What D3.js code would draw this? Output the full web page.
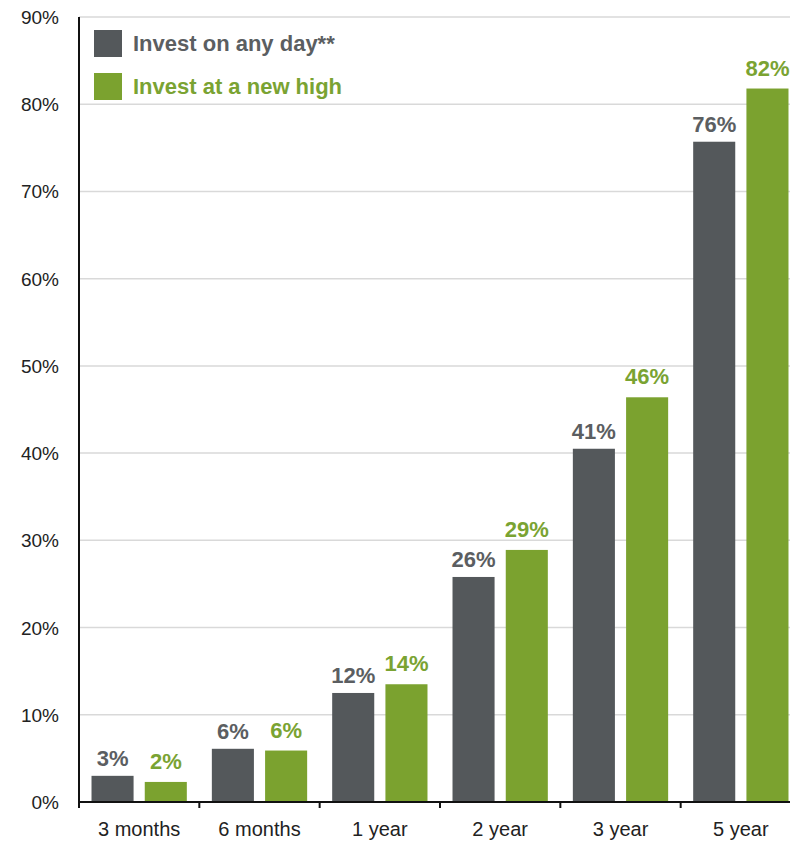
<!DOCTYPE html>
<html>
<head>
<meta charset="utf-8">
<script src="https://cdn.jsdelivr.net/npm/d3@7"></script>
<style>
  body { margin: 0; background: #fff; }
  svg { display: block; font-family: "Liberation Sans", Arial, sans-serif; }
</style>
</head>
<body>
<div id="chart"></div>
<script>
const periods = ["3 months", "6 months", "1 year", "2 year", "3 year", "5 year"];
const anyDay = [3.0, 6.1, 12.5, 25.8, 40.5, 75.7];
const newHigh = [2.3, 5.9, 13.5, 28.9, 46.4, 81.8];
const anyDayLabels = ["3%", "6%", "12%", "26%", "41%", "76%"];
const newHighLabels = ["2%", "6%", "14%", "29%", "46%", "82%"];
const yTicks = [0, 10, 20, 30, 40, 50, 60, 70, 80, 90];
const seriesNames = ["Invest on any day**", "Invest at a new high"];

const width = 790, height = 841;
const margin = { top: 17, right: -11, bottom: 39, left: 79 };

const barColor = ["#54585b", "#7ba22f"];
const textColor = ["#5b5e61", "#7aa332"];
const labelGap = [10, 13];

const svg = d3.select("#chart").append("svg")
    .attr("width", width)
    .attr("height", height);

const x = d3.scaleBand()
    .domain(periods)
    .range([margin.left, width - margin.right])
    .paddingInner(0)
    .paddingOuter(0);

const x1 = d3.scaleBand()
    .domain([0, 1])
    .range([0, x.bandwidth()])
    .paddingInner(0.21)
    .paddingOuter(0.235);

const y = d3.scaleLinear()
    .domain([0, 90])
    .range([height - margin.bottom, margin.top]);

// gridlines
svg.append("g")
    .selectAll("line")
    .data(yTicks.filter(d => d > 0))
    .join("line")
    .attr("x1", margin.left)
    .attr("x2", width)
    .attr("y1", d => y(d))
    .attr("y2", d => y(d))
    .attr("stroke", "#d9d9d9")
    .attr("stroke-width", 1.5);

// y tick labels
svg.append("g")
    .selectAll("text")
    .data(yTicks)
    .join("text")
    .attr("x", 59)
    .attr("y", d => y(d) + 7)
    .attr("text-anchor", "end")
    .attr("font-size", "19px")
    .attr("fill", "#222")
    .text(d => d + "%");

// bars
const groups = svg.append("g")
    .selectAll("g")
    .data(periods)
    .join("g")
    .attr("transform", d => `translate(${x(d)},0)`);

const series = [anyDay, newHigh];
const labels = [anyDayLabels, newHighLabels];

series.forEach((vals, s) => {
    groups.append("rect")
        .attr("x", x1(s))
        .attr("width", x1.bandwidth())
        .attr("y", (d, i) => y(vals[i]))
        .attr("height", (d, i) => y(0) - y(vals[i]))
        .attr("fill", barColor[s]);

    groups.append("text")
        .attr("x", x1(s) + x1.bandwidth() / 2)
        .attr("y", (d, i) => y(vals[i]) - labelGap[s])
        .attr("text-anchor", "middle")
        .attr("font-size", "22px")
        .attr("font-weight", "bold")
        .attr("fill", textColor[s])
        .text((d, i) => labels[s][i]);
});

// axes lines
svg.append("line")
    .attr("x1", margin.left).attr("x2", margin.left)
    .attr("y1", y(90)).attr("y2", y(0))
    .attr("stroke", "#111").attr("stroke-width", 2);

svg.append("line")
    .attr("x1", margin.left).attr("x2", width)
    .attr("y1", y(0)).attr("y2", y(0))
    .attr("stroke", "#111").attr("stroke-width", 2);

// category boundary ticks
svg.append("g")
    .selectAll("line")
    .data(periods)
    .join("line")
    .attr("x1", d => x(d))
    .attr("x2", d => x(d))
    .attr("y1", y(0))
    .attr("y2", y(0) + 6)
    .attr("stroke", "#111")
    .attr("stroke-width", 2);

// x labels
svg.append("g")
    .selectAll("text")
    .data(periods)
    .join("text")
    .attr("x", d => x(d) + x.bandwidth() / 2)
    .attr("y", 836)
    .attr("text-anchor", "middle")
    .attr("font-size", "20px")
    .attr("fill", "#222")
    .text(d => d);

// legend
const legend = svg.append("g")
    .selectAll("g")
    .data(seriesNames)
    .join("g")
    .attr("transform", (d, i) => `translate(94,${30 + i * 43})`);

legend.append("rect")
    .attr("width", 28)
    .attr("height", 27)
    .attr("fill", (d, i) => barColor[i]);

legend.append("text")
    .attr("x", 39)
    .attr("y", 21)
    .attr("font-size", "22px")
    .attr("font-weight", "bold")
    .attr("fill", (d, i) => textColor[i])
    .text(d => d);
</script>
</body>
</html>
